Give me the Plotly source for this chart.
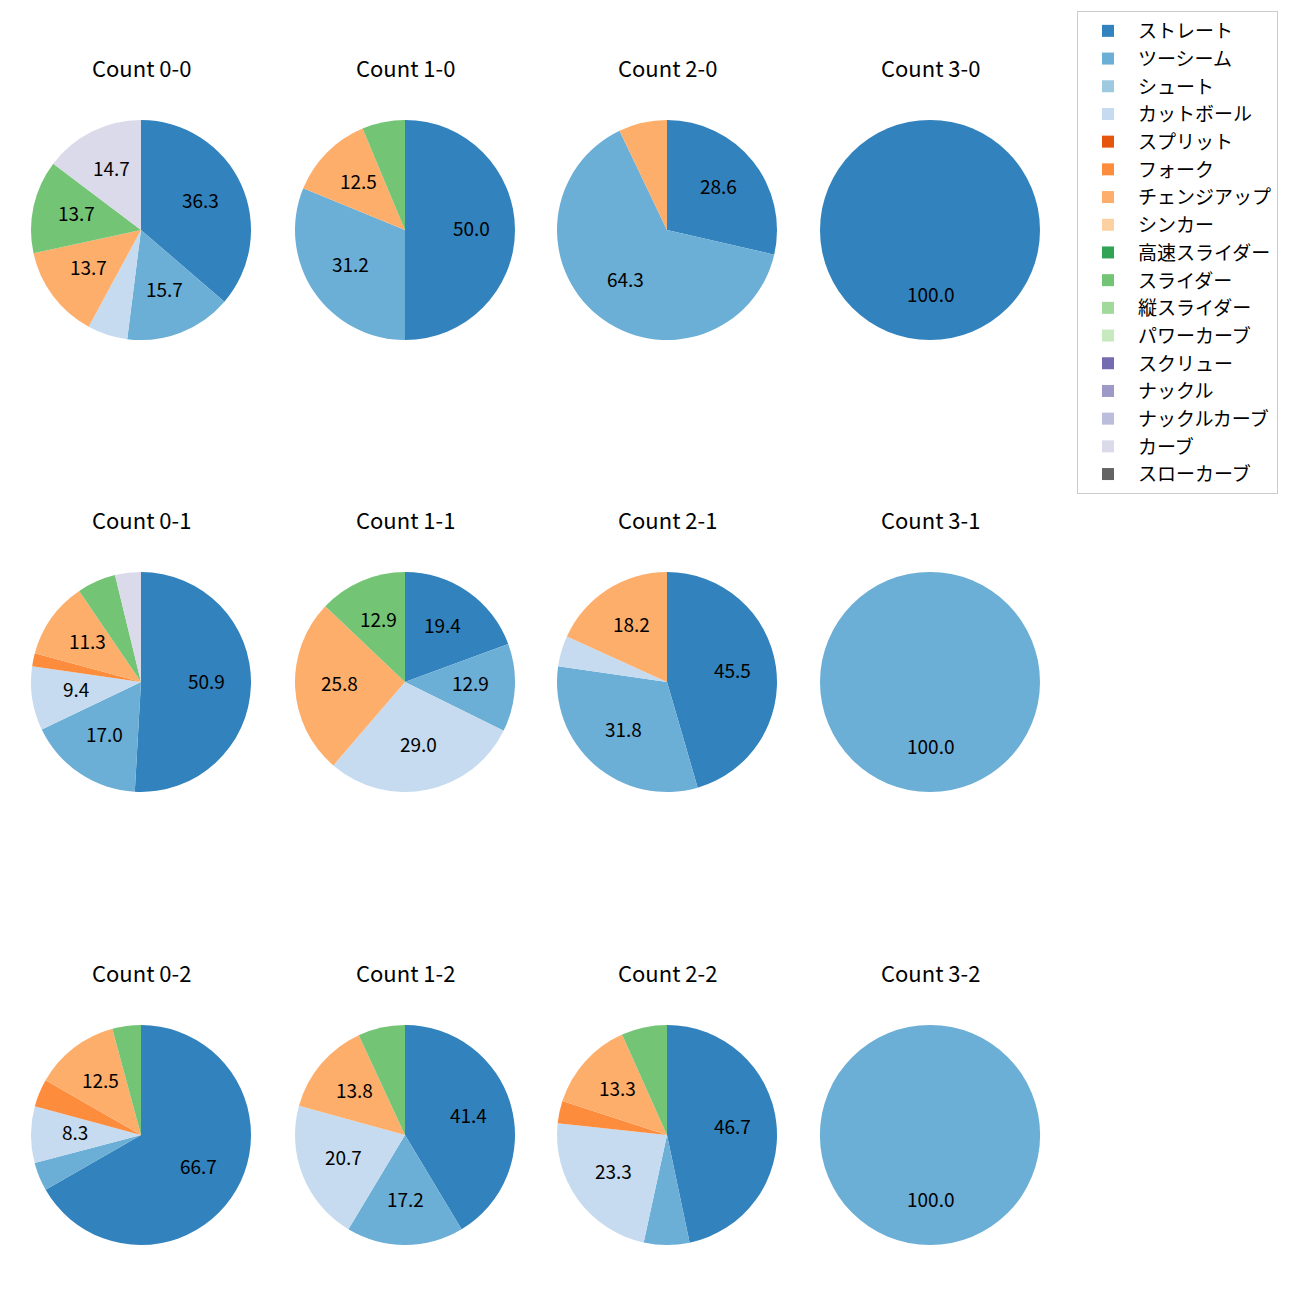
import math
import plotly.graph_objects as go

# ---------------- data ----------------
pitch_types = ["ストレート", "ツーシーム", "シュート", "カットボール", "スプリット", "フォーク",
               "チェンジアップ", "シンカー", "高速スライダー", "スライダー", "縦スライダー",
               "パワーカーブ", "スクリュー", "ナックル", "ナックルカーブ", "カーブ", "スローカーブ"]
pitch_colors = ["#3182bd", "#6baed6", "#9ecae1", "#c6dbef", "#e6550d", "#fd8d3c",
                "#fdae6b", "#fdd0a2", "#31a354", "#74c476", "#a1d99b", "#c7e9c0",
                "#756bb1", "#9e9ac8", "#bcbddc", "#dadaeb", "#636363"]

count_titles = ["Count 0-0", "Count 1-0", "Count 2-0", "Count 3-0",
                "Count 0-1", "Count 1-1", "Count 2-1", "Count 3-1",
                "Count 0-2", "Count 1-2", "Count 2-2", "Count 3-2"]

# percentages, in pitch_types order
count_0_0 = [36.3, 15.7, 0, 5.9, 0, 0, 13.7, 0, 0, 13.7, 0, 0, 0, 0, 0, 14.7, 0]
count_1_0 = [50.0, 31.2, 0, 0, 0, 0, 12.5, 0, 0, 6.3, 0, 0, 0, 0, 0, 0, 0]
count_2_0 = [28.6, 64.3, 0, 0, 0, 0, 7.1, 0, 0, 0, 0, 0, 0, 0, 0, 0, 0]
count_3_0 = [100.0, 0, 0, 0, 0, 0, 0, 0, 0, 0, 0, 0, 0, 0, 0, 0, 0]
count_0_1 = [50.9, 17.0, 0, 9.4, 0, 1.9, 11.3, 0, 0, 5.7, 0, 0, 0, 0, 0, 3.8, 0]
count_1_1 = [19.4, 12.9, 0, 29.0, 0, 0, 25.8, 0, 0, 12.9, 0, 0, 0, 0, 0, 0, 0]
count_2_1 = [45.5, 31.8, 0, 4.5, 0, 0, 18.2, 0, 0, 0, 0, 0, 0, 0, 0, 0, 0]
count_3_1 = [0, 100.0, 0, 0, 0, 0, 0, 0, 0, 0, 0, 0, 0, 0, 0, 0, 0]
count_0_2 = [66.7, 4.2, 0, 8.3, 0, 4.1, 12.5, 0, 0, 4.2, 0, 0, 0, 0, 0, 0, 0]
count_1_2 = [41.4, 17.2, 0, 20.7, 0, 0, 13.8, 0, 0, 6.9, 0, 0, 0, 0, 0, 0, 0]
count_2_2 = [46.7, 6.7, 0, 23.3, 0, 3.3, 13.3, 0, 0, 6.7, 0, 0, 0, 0, 0, 0, 0]
count_3_2 = [0, 100.0, 0, 0, 0, 0, 0, 0, 0, 0, 0, 0, 0, 0, 0, 0, 0]

all_counts = [count_0_0, count_1_0, count_2_0, count_3_0,
              count_0_1, count_1_1, count_2_1, count_3_1,
              count_0_2, count_1_2, count_2_2, count_3_2]

# ---------------- layout geometry ----------------
W = H = 1300
R = 110
col_cx = [141, 405, 667, 930]
row_cy = [230, 682, 1135]
title_dy = 163
label_dy = -3          # small vertical text-box correction
label_min_pct = 8.0
FONT = "Noto Sans CJK JP, Noto Sans, sans-serif"

legend_labels = ['<span style="font-size:19px">%s</span>' % p for p in pitch_types]

fig = go.Figure()
annotations = []

for i, vals in enumerate(all_counts):
    r, c = divmod(i, 4)
    cx, cy = col_cx[c], row_cy[r]
    fig.add_trace(go.Pie(
        labels=legend_labels,
        values=vals,
        marker=dict(colors=pitch_colors, line=dict(width=0)),
        sort=False,
        direction="clockwise",
        rotation=0,
        textinfo="none",
        hoverinfo="label+percent",
        domain=dict(x=[(cx - R) / W, (cx + R) / W],
                    y=[1 - (cy + R) / H, 1 - (cy - R) / H]),
        showlegend=(i == 0),
    ))
    # title
    annotations.append(dict(
        x=cx / W, y=1 - (cy - title_dy) / H, xref="paper", yref="paper",
        text=count_titles[i], showarrow=False, xanchor="center", yanchor="middle",
        font=dict(family=FONT, size=22, color="#000000")))
    # percentage labels at 0.6 R (like matplotlib pctdistance)
    total = sum(vals)
    cum = 0.0
    for v in vals:
        if v <= 0:
            continue
        mid = cum + v / 2.0
        cum += v
        pct = v / total * 100.0
        if pct < label_min_pct:
            continue
        ang = math.radians(90 - mid / total * 360.0)
        px = cx + 0.6 * R * math.cos(ang)
        py = cy - 0.6 * R * math.sin(ang) + label_dy
        annotations.append(dict(
            x=px / W, y=1 - py / H, xref="paper", yref="paper",
            text="%.1f" % pct, showarrow=False, xanchor="center", yanchor="middle",
            font=dict(family=FONT, size=19, color="#000000")))

fig.update_layout(
    width=W, height=H,
    margin=dict(l=0, r=0, t=0, b=0),
    paper_bgcolor="white",
    plot_bgcolor="white",
    font=dict(family=FONT, color="#000000"),
    annotations=annotations,
    showlegend=True,
    legend=dict(
        x=1077 / W, y=1 - 11 / H, xanchor="left", yanchor="top",
        bgcolor="white", bordercolor="#cccccc", borderwidth=1,
        font=dict(family=FONT, size=19, color="#000000"),
        itemwidth=50,
        traceorder="normal",
    ),
)

fig.write_html("out.html")
